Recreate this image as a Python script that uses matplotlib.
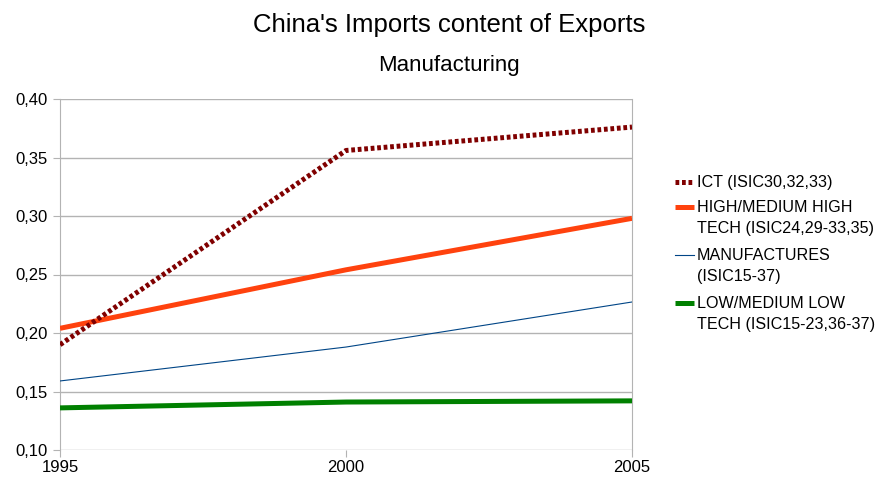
import matplotlib
matplotlib.use("Agg")
from matplotlib import pyplot as plt
from matplotlib.lines import Line2D

plt.rcParams['font.family'] = ['Liberation Sans', 'DejaVu Sans']

years = [1995, 2000, 2005]
ict = [0.190, 0.356, 0.376]
highTech = [0.204, 0.254, 0.298]
manufactures = [0.159, 0.188, 0.2265]
lowTech = [0.136, 0.141, 0.142]

labels = ['ICT (ISIC30,32,33)',
          'HIGH/MEDIUM HIGH\nTECH (ISIC24,29-33,35)',
          'MANUFACTURES\n(ISIC15-37)',
          'LOW/MEDIUM LOW\nTECH (ISIC15-23,36-37)']
yTicks = [0.10, 0.15, 0.20, 0.25, 0.30, 0.35, 0.40]

W, H = 877, 484
fig = plt.figure(figsize=(W / 100, H / 100), dpi=100)
ax = fig.add_axes([60 / W, 1 - 450 / H, 572 / W, 351 / H])

styles = [
  dict(color='#800000', lw=3.6, linestyle=(0, (0.75, 0.55)), dash_capstyle='butt', zorder=5),
  dict(color='#ff420e', lw=3.6, solid_capstyle='butt', zorder=4),
  dict(color='#004586', lw=0.8, zorder=3),
  dict(color='#008000', lw=3.6, solid_capstyle='butt', zorder=4),
]
for series, style in zip([ict, highTech, manufactures, lowTech], styles):
  ax.plot(years, series, **style)

ax.set_xlim(1995, 2005)
ax.set_ylim(0.10, 0.40)
ax.set_xticks(years)
ax.set_yticks(yTicks)
ax.set_yticklabels(['{:.2f}'.format(v).replace('.', ',') for v in yTicks])
ax.grid(axis='y', color='#b3b3b3', lw=1)
ax.set_axisbelow(True)
for side in ['top', 'bottom']:
  ax.spines[side].set_visible(False)
for side in ['left', 'right']:
  ax.spines[side].set_color('#b3b3b3')
ax.tick_params(axis='both', colors='#b3b3b3', labelcolor='black',
               labelsize=12, length=5)
ax.tick_params(axis='y', pad=4)
ax.tick_params(axis='x', pad=2)

fig.text(449 / W, 1 - 25 / H, "China's Imports content of Exports", ha='center',
         va='center', fontsize=18.5)
fig.text(449 / W, 1 - 66 / H, 'Manufacturing', ha='center', va='center', fontsize=16)

# legend drawn by hand so each key sits on the first line of its label
rowY = [182, 207, 255, 303]
lineGap = 22
for label, style, y in zip(labels, styles, rowY):
  yf = 1 - y / H
  style = dict(style)
  style.pop('zorder')
  fig.add_artist(Line2D([675 / W, 694 / W], [yf, yf], transform=fig.transFigure, **style))
  for k, part in enumerate(label.split('\n')):
    fig.text(697 / W, 1 - (y + k * lineGap) / H, part, ha='left', va='center',
             fontsize=11.6)

fig.savefig('out.png', dpi=100)
